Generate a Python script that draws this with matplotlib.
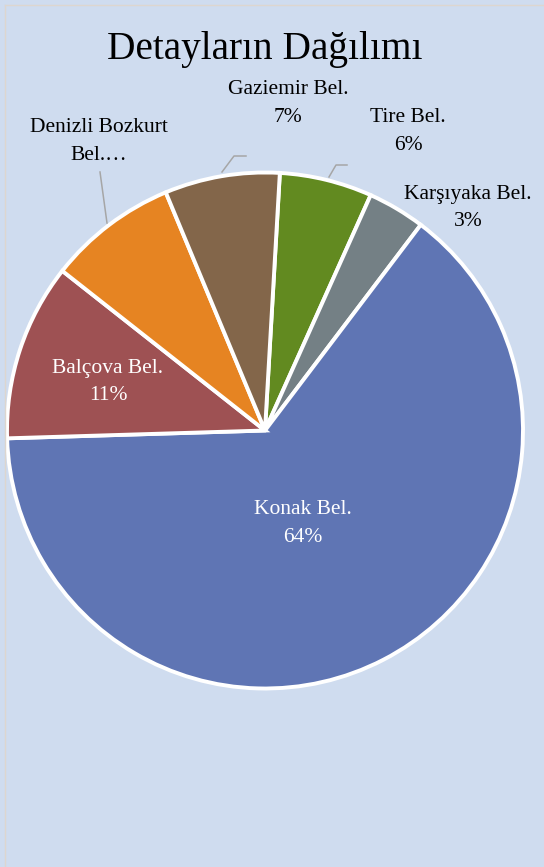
import matplotlib
matplotlib.use("Agg")
import matplotlib.pyplot as plt
from matplotlib.lines import Line2D

# Data (clockwise order starting near 12 o'clock)
categories = ["Tire Bel.", "Karşıyaka Bel.", "Konak Bel.", "Balçova Bel.",
              "Denizli Bozkurt Bel.", "Gaziemir Bel."]
values = [5.8, 3.6, 64.2, 11.1, 8.1, 7.2]
pct_labels = ["6%", "3%", "64%", "11%", "", "7%"]
colors = ["#628a20", "#748085", "#5f75b4", "#9e5153", "#e68422", "#83664a"]

W, H = 544, 867
BG = "#cfdcef"
FONT = ["Liberation Serif", "DejaVu Serif"]

fig = plt.figure(figsize=(W / 100, H / 100), dpi=100, facecolor=BG)
ax = fig.add_axes([0, 0, 1, 1])
ax.set_facecolor(BG)

cx, cy, r = 265, H - 430.5, 258
ax.pie(values, colors=colors, startangle=86.7, counterclock=False,
       center=(cx, cy), radius=r,
       wedgeprops=dict(edgecolor="white", linewidth=2.8))
ax.set_xlim(0, W)
ax.set_ylim(0, H)
ax.set_aspect("equal")
ax.axis("off")

def Y(p):
    return H - p

# frame border (left and top)
ax.add_line(Line2D([4.5, 4.5], [Y(4.5), 0], color="#ddd6cf", lw=1))
ax.add_line(Line2D([4.5, W], [Y(4.5), Y(4.5)], color="#ddd6cf", lw=1))

# title
ax.text(265, Y(50), "Detayların Dağılımı", fontsize=28.3, family=FONT,
        ha="center", va="center", color="black")

lab_fs = 15.5
label_pos = {
    "Gaziemir Bel.": ((288, 90), (288, 118), "#000000"),
    "Tire Bel.": ((408, 118), (408, 146), "#000000"),
    "Karşıyaka Bel.": ((468, 194), (468, 222), "#000000"),
    "Konak Bel.": ((303, 510), (303, 538), "white"),
    "Balçova Bel.": ((108, 368), (108, 396), "white"),
}
for cat, pct in zip(categories, pct_labels):
    if cat in label_pos:
        (x1, y1), (x2, y2), col = label_pos[cat]
        ax.text(x1, Y(y1), cat, fontsize=lab_fs, family=FONT, ha="center",
                va="center", color=col)
        ax.text(x2, Y(y2), pct, fontsize=lab_fs, family=FONT, ha="center",
                va="center", color=col)

ax.text(99, Y(128), "Denizli Bozkurt", fontsize=lab_fs, family=FONT,
        ha="center", va="center", color="black")
ax.text(99, Y(155), "Bel.…", fontsize=lab_fs, family=FONT,
        ha="center", va="center", color="black")

# leader lines
lc = "#a6a6a6"
ax.add_line(Line2D([222, 234, 246], [Y(172), Y(156), Y(156)], color=lc, lw=1.1))
ax.add_line(Line2D([329, 336, 347], [Y(177), Y(165), Y(165)], color=lc, lw=1.1))
ax.add_line(Line2D([107, 100], [Y(223), Y(172)], color=lc, lw=1.1))

fig.savefig("out.png", dpi=100, facecolor=BG)
